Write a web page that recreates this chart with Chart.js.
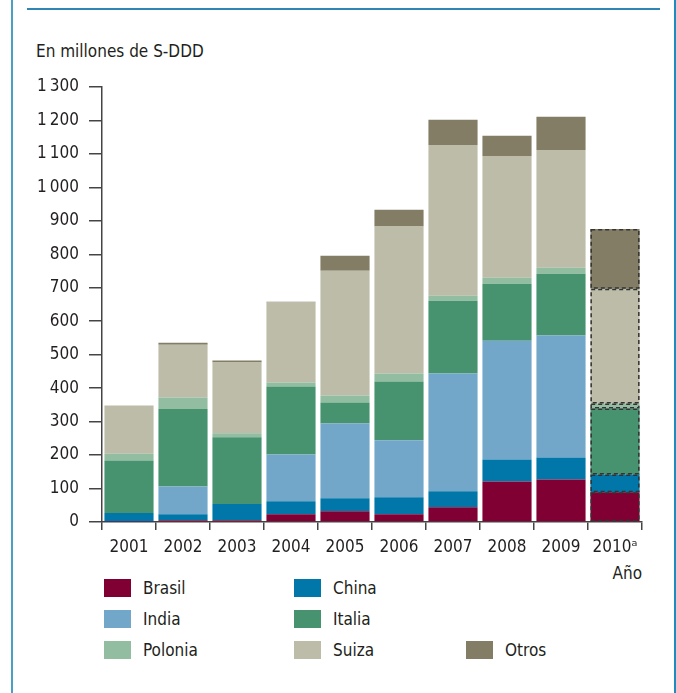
<!DOCTYPE html>
<html>
<head>
<meta charset="utf-8">
<script src="https://cdn.jsdelivr.net/npm/chart.js@4"></script>
<style>
  html, body { margin: 0; padding: 0; background: #fff; }
  body { width: 676px; height: 693px; position: relative; overflow: hidden;
         font-family: "Liberation Sans Narrow", "DejaVu Sans Condensed", sans-serif; color: #231f20; }
  .frame-left { position: absolute; left: 11px; top: 0; width: 2px; height: 693px; background: #4a9fc8; }
  .frame-right { position: absolute; left: 674px; top: 0; width: 2px; height: 693px; background: #1f8cc0; }
  .frame-top { position: absolute; left: 27px; top: 8px; width: 633px; height: 2px; background: #2f86b5; }
  #title { position: absolute; left: 36px; top: 41px; font-size: 17px; }
  #anio { position: absolute; left: 560px; width: 82px; text-align: right; top: 563px; font-size: 17px; }
  #wrap { position: absolute; left: 0; top: 0; width: 676px; height: 560px; }
  #legend { position: absolute; left: 0; top: 0; }
  .item { position: absolute; display: flex; align-items: center; font-size: 17px; }
  .sw { width: 27px; height: 18px; margin-right: 12px; }
</style>
</head>
<body>
<div class="frame-left"></div>
<div class="frame-right"></div>
<div class="frame-top"></div>
<div id="title">En millones de S-DDD</div>
<div id="wrap"><canvas id="barChart"></canvas></div>
<div id="anio">Año</div>
<div id="legend"></div>
<script>
// data
var years = ["2001", "2002", "2003", "2004", "2005", "2006", "2007", "2008", "2009", "2010ᵃ"];
var brasil  = [1, 5, 5, 23, 32, 23, 44, 121, 127, 89];
var china   = [26, 18, 49, 39, 39, 51, 48, 66, 66, 53];
var india   = [0, 83, 0, 140, 223, 170, 352, 355, 364, 0];
var italia  = [157, 232, 199, 203, 63, 176, 217, 170, 185, 197];
var polonia = [20, 34, 12, 12, 21, 24, 15, 18, 18, 15];
var suiza   = [144, 158, 212, 239, 373, 439, 451, 364, 352, 343];
var otros   = [0, 6, 6, 2, 45, 50, 75, 60, 99, 179];
var yTicks  = [0, 100, 200, 300, 400, 500, 600, 700, 800, 900, 1000, 1100, 1200, 1300];

var seriesNames = ["Brasil", "China", "India", "Italia", "Polonia", "Suiza", "Otros"];
var seriesData = [brasil, china, india, italia, polonia, suiza, otros];
var colors = ["#800033", "#0077a8", "#72a7ca", "#479370", "#93bda0", "#bdbca8", "#827d64"];

var datasets = seriesNames.map(function (name, i) {
  return {
    label: name,
    data: seriesData[i],
    backgroundColor: colors[i],
    borderWidth: 0,
    barPercentage: 0.91,
    categoryPercentage: 1.0,
  };
});

// dashed outline for the estimated year (last category)
var dashedLast = {
  id: "dashedLast",
  afterDatasetsDraw: function (chart) {
    var ctx = chart.ctx;
    var last = years.length - 1;
    ctx.save();
    ctx.setLineDash([4, 3]);
    ctx.lineWidth = 1.5;
    ctx.strokeStyle = "#333";
    chart.data.datasets.forEach(function (ds, i) {
      var el = chart.getDatasetMeta(i).data[last];
      if (!el || ds.data[last] === 0) return;
      var p = el.getProps(["x", "y", "base", "width"], true);
      var top = Math.min(p.y, p.base);
      var h = Math.abs(p.base - p.y);
      ctx.strokeRect(p.x - p.width / 2 + 0.75, top + 0.75, p.width - 1.5, h - 1.5);
    });
    ctx.restore();
  },
};

var fontFam = '"Liberation Sans Narrow", "DejaVu Sans Condensed", sans-serif';
var ctx = document.getElementById("barChart").getContext("2d");
var myChart = new Chart(ctx, {
  type: "bar",
  data: { labels: years, datasets: datasets },
  plugins: [dashedLast],
  options: {
    responsive: true,
    maintainAspectRatio: false,
    animation: false,
    layout: { padding: { top: 87, right: 34, left: 0, bottom: 0 } },
    plugins: { legend: { display: false }, tooltip: { enabled: false } },
    scales: {
      x: {
        stacked: true,
        afterFit: function (s) { s.height = 38; },
        grid: { display: true, drawOnChartArea: false, drawTicks: true, tickLength: 8, color: "#444", lineWidth: 1.5, offset: true },
        border: { display: true, color: "#444", width: 1.5 },
        ticks: { color: "#231f20", font: { family: fontFam, size: 17 }, padding: 7 },
      },
      y: {
        stacked: true,
        min: 0,
        max: 1300,
        afterFit: function (s) { s.width = 102; },
        afterBuildTicks: function (s) { s.ticks = yTicks.map(function (v) { return { value: v }; }); },
        grid: { display: true, drawOnChartArea: false, drawTicks: true, tickLength: 13, color: "#444", lineWidth: 1.5 },
        border: { display: true, color: "#444", width: 1.5 },
        ticks: {
          color: "#231f20",
          font: { family: fontFam, size: 17 },
          padding: 10,
          callback: function (v) { return v >= 1000 ? Math.floor(v / 1000) + "\u202f" + String(v % 1000).padStart(3, "0") : String(v); },
        },
      },
    },
  },
});

// legend
var legendSlots = [[104, 579], [294, 579], [104, 610], [294, 610], [104, 641], [294, 641], [466, 641]];
var legend = document.getElementById("legend");
seriesNames.forEach(function (name, i) {
  var item = document.createElement("div");
  item.className = "item";
  item.style.left = legendSlots[i][0] + "px";
  item.style.top = (legendSlots[i][1] - 1) + "px";
  var sw = document.createElement("span");
  sw.className = "sw";
  sw.style.background = colors[i];
  var t = document.createElement("span");
  t.textContent = name;
  item.appendChild(sw);
  item.appendChild(t);
  legend.appendChild(item);
});
</script>
</body>
</html>
